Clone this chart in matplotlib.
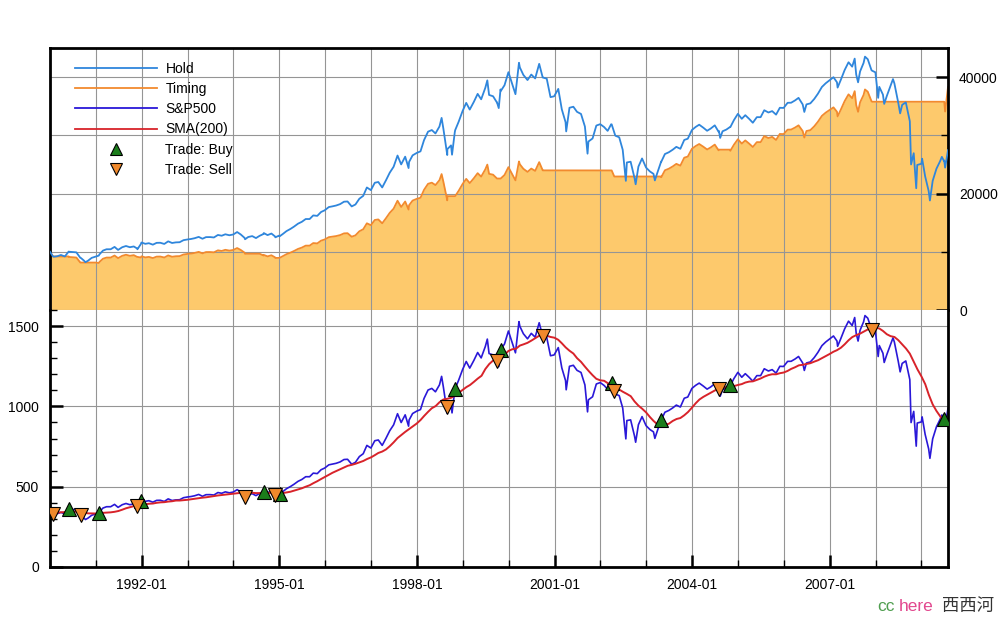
import matplotlib
matplotlib.use("Agg")
import matplotlib.pyplot as plt
import matplotlib.dates as mdates
import pandas as pd
from matplotlib.lines import Line2D
from matplotlib.ticker import MultipleLocator

plt.rcParams['font.family'] = ['Liberation Sans', 'DejaVu Sans']

# ---------------- data ----------------
dates = [
    # 1990
    '1990-01-02', '1990-01-26', '1990-01-31', '1990-02-28', '1990-03-30', '1990-04-30', '1990-05-31', '1990-06-01',
    '1990-06-29', '1990-07-31', '1990-08-31', '1990-09-04', '1990-09-28', '1990-10-11', '1990-10-31', '1990-11-30', '1990-12-31',
    # 1991
    '1991-01-25', '1991-01-31', '1991-02-28', '1991-03-28', '1991-04-30', '1991-05-31', '1991-06-28', '1991-07-31',
    '1991-08-30', '1991-09-30', '1991-10-31', '1991-11-27', '1991-11-29', '1991-12-27', '1991-12-31',
    # 1992
    '1992-01-31', '1992-02-28', '1992-03-31', '1992-04-30', '1992-05-29', '1992-06-30', '1992-07-31', '1992-08-31',
    '1992-09-30', '1992-10-30', '1992-11-30', '1992-12-31',
    # 1993
    '1993-01-29', '1993-02-26', '1993-03-31', '1993-04-30', '1993-05-28', '1993-06-30', '1993-07-30', '1993-08-31',
    '1993-09-30', '1993-10-29', '1993-11-30', '1993-12-31',
    # 1994
    '1994-01-31', '1994-02-28', '1994-03-31', '1994-04-04', '1994-04-29', '1994-05-31', '1994-06-30', '1994-07-29',
    '1994-08-30', '1994-08-31', '1994-09-30', '1994-10-31', '1994-11-30', '1994-12-01', '1994-12-30',
    # 1995
    '1995-01-04', '1995-01-31', '1995-02-28', '1995-03-31', '1995-04-28', '1995-05-31', '1995-06-30', '1995-07-31',
    '1995-08-31', '1995-09-29', '1995-10-31', '1995-11-30', '1995-12-29',
    # 1996
    '1996-01-31', '1996-02-29', '1996-03-29', '1996-04-30', '1996-05-31', '1996-06-28', '1996-07-31', '1996-08-30',
    '1996-09-30', '1996-10-31', '1996-11-29', '1996-12-31',
    # 1997
    '1997-01-31', '1997-02-28', '1997-03-31', '1997-04-30', '1997-05-30', '1997-06-30', '1997-07-31', '1997-08-29',
    '1997-09-30', '1997-10-27', '1997-10-31', '1997-11-28', '1997-12-31',
    # 1998
    '1998-01-30', '1998-02-27', '1998-03-31', '1998-04-30', '1998-05-29', '1998-06-30', '1998-07-17', '1998-07-31',
    '1998-08-31', '1998-09-01', '1998-09-30', '1998-10-08', '1998-10-30', '1998-11-02', '1998-11-30', '1998-12-31',
    # 1999
    '1999-01-29', '1999-02-26', '1999-03-31', '1999-04-30', '1999-05-28', '1999-06-30', '1999-07-16', '1999-07-30',
    '1999-08-31', '1999-09-30', '1999-10-01', '1999-10-15', '1999-10-29', '1999-11-01', '1999-11-30', '1999-12-31',
    # 2000
    '2000-01-31', '2000-02-25', '2000-03-24', '2000-03-31', '2000-04-28', '2000-05-31', '2000-06-30', '2000-07-31',
    '2000-08-31', '2000-09-01', '2000-09-29', '2000-10-02', '2000-10-31', '2000-11-30', '2000-12-29',
    # 2001
    '2001-01-31', '2001-02-28', '2001-03-30', '2001-04-04', '2001-04-30', '2001-05-31', '2001-06-29', '2001-07-31',
    '2001-08-31', '2001-09-21', '2001-09-28', '2001-10-31', '2001-11-30', '2001-12-31',
    # 2002
    '2002-01-31', '2002-02-28', '2002-03-28', '2002-04-01', '2002-04-22', '2002-04-30', '2002-05-31', '2002-06-28',
    '2002-07-23', '2002-07-31', '2002-08-30', '2002-09-30', '2002-10-09', '2002-10-31', '2002-11-29', '2002-12-31',
    # 2003
    '2003-01-31', '2003-02-28', '2003-03-11', '2003-03-31', '2003-04-30', '2003-05-01', '2003-05-30', '2003-06-30',
    '2003-07-31', '2003-08-29', '2003-09-30', '2003-10-31', '2003-11-28', '2003-12-31',
    # 2004
    '2004-01-30', '2004-02-27', '2004-03-31', '2004-04-30', '2004-05-28', '2004-06-30', '2004-07-30', '2004-08-02',
    '2004-08-12', '2004-08-31', '2004-09-30', '2004-10-29', '2004-11-01', '2004-11-30', '2004-12-31',
    # 2005
    '2005-01-31', '2005-02-28', '2005-03-31', '2005-04-29', '2005-05-31', '2005-06-30', '2005-07-29', '2005-08-31',
    '2005-09-30', '2005-10-31', '2005-11-30', '2005-12-30',
    # 2006
    '2006-01-31', '2006-02-28', '2006-03-31', '2006-04-28', '2006-05-31', '2006-06-13', '2006-06-30', '2006-07-31',
    '2006-08-31', '2006-09-29', '2006-10-31', '2006-11-30', '2006-12-29',
    # 2007
    '2007-01-31', '2007-02-28', '2007-03-05', '2007-03-30', '2007-04-30', '2007-05-31', '2007-06-29', '2007-07-19',
    '2007-07-31', '2007-08-15', '2007-08-31', '2007-09-28', '2007-10-09', '2007-10-31', '2007-11-30', '2007-12-06',
    '2007-12-31',
    # 2008
    '2008-01-22', '2008-01-31', '2008-02-29', '2008-03-10', '2008-03-31', '2008-04-30', '2008-05-19', '2008-05-30',
    '2008-06-30', '2008-07-15', '2008-07-31', '2008-08-29', '2008-09-30', '2008-10-10', '2008-10-31', '2008-11-20',
    '2008-11-28', '2008-12-31',
    # 2009
    '2009-01-06', '2009-01-30', '2009-02-27', '2009-03-09', '2009-03-31', '2009-04-30', '2009-05-29', '2009-06-12',
    '2009-06-30', '2009-07-01', '2009-07-08', '2009-07-31',
]

sp500 = [
    359.7, 331.0, 329.1, 331.9, 339.9, 330.8, 361.2, 360.0, 358.0, 356.2, 322.6, 322.0, 306.1, 295.5, 304.0, 322.2, 330.2,
    336.0, 343.9, 367.1, 375.2, 375.3, 389.8, 371.2, 387.8, 395.4, 387.9, 392.5, 380.0, 375.2, 408.0, 417.1,
    408.8, 412.7, 403.7, 414.9, 415.4, 408.1, 424.2, 414.0, 417.8, 418.7, 431.4, 435.7,
    438.8, 443.4, 451.7, 440.2, 450.2, 450.5, 448.1, 463.6, 458.9, 467.8, 461.8, 466.5,
    481.6, 467.1, 445.8, 437.0, 450.9, 456.5, 444.3, 458.3, 470.0, 475.5, 462.7, 472.4, 453.7, 449.0, 459.3,
    455.0, 470.4, 487.4, 500.7, 514.7, 533.4, 544.8, 562.1, 561.9, 584.4, 581.5, 605.4, 615.9,
    636.0, 640.4, 645.5, 654.2, 669.1, 670.6, 639.9, 651.9, 687.3, 705.3, 757.0, 740.7,
    786.2, 790.8, 757.1, 801.3, 848.3, 885.1, 954.3, 899.5, 947.3, 876.9, 914.6, 955.4, 970.4,
    980.3, 1049.3, 1101.8, 1111.8, 1090.8, 1133.8, 1186.8, 1120.7, 957.3, 994.0, 1017.0, 959.4, 1098.7, 1111.0, 1163.6, 1229.2,
    1279.6, 1238.3, 1286.4, 1335.2, 1301.8, 1372.7, 1418.8, 1328.7, 1320.4, 1282.7, 1283.0, 1247.4, 1362.9, 1354.0, 1388.9, 1469.3,
    1394.5, 1333.4, 1527.5, 1498.6, 1452.4, 1420.6, 1454.6, 1430.8, 1517.7, 1520.8, 1436.5, 1436.0, 1429.4, 1315.2, 1320.3,
    1366.0, 1239.9, 1160.3, 1103.3, 1249.5, 1255.8, 1224.4, 1211.2, 1133.6, 965.8, 1040.9, 1059.8, 1139.5, 1148.1,
    1130.2, 1106.7, 1147.4, 1147.0, 1097.0, 1076.9, 1067.1, 989.8, 797.7, 911.6, 916.1, 815.3, 776.8, 885.8, 936.3, 879.8,
    855.7, 841.2, 800.7, 848.2, 916.9, 916.0, 963.6, 974.5, 990.3, 1008.0, 996.0, 1050.7, 1058.2, 1111.9,
    1131.1, 1144.9, 1126.2, 1107.3, 1120.7, 1140.8, 1101.7, 1106.0, 1063.2, 1104.2, 1114.6, 1130.2, 1130.0, 1173.8, 1211.9,
    1181.3, 1203.6, 1180.6, 1156.9, 1191.5, 1191.3, 1234.2, 1220.3, 1228.8, 1207.0, 1249.5, 1248.3,
    1280.1, 1280.7, 1294.8, 1310.6, 1270.1, 1223.7, 1270.2, 1276.7, 1303.8, 1335.9, 1377.9, 1400.6, 1418.3,
    1438.2, 1406.8, 1374.1, 1420.9, 1482.4, 1530.6, 1503.4, 1553.1, 1455.3, 1406.7, 1473.9, 1526.8, 1565.2, 1549.4, 1481.1, 1478.0,
    1468.4,
    1310.5, 1378.6, 1330.6, 1273.4, 1322.7, 1385.6, 1426.6, 1400.4, 1280.0, 1214.9, 1267.4, 1282.8, 1166.4, 899.2, 968.8, 752.4,
    896.2, 903.3,
    934.7, 825.9, 735.1, 676.5, 797.9, 872.8, 919.1, 946.2, 919.3, 923.0, 879.6, 987.5,
]

hold = [
    10000, 9202, 9149, 9227, 9449, 9196, 10041, 10008, 9952, 9902, 8968, 8952, 8510, 8215, 8451, 8957, 9180,
    9341, 9560, 10205, 10431, 10433, 10836, 10319, 10781, 10992, 10784, 10912, 10564, 10431, 11342, 11595,
    11365, 11473, 11223, 11534, 11548, 11345, 11793, 11509, 11615, 11640, 11993, 12112,
    12199, 12327, 12557, 12238, 12516, 12524, 12457, 12888, 12757, 13005, 12838, 12969,
    13388, 12985, 12393, 12149, 12535, 12691, 12352, 12741, 13066, 13219, 12863, 13133, 12613, 12482, 12769,
    12649, 13077, 13550, 13919, 14309, 14829, 15145, 15626, 15621, 16246, 16166, 16830, 17122,
    17681, 17803, 17945, 18187, 18601, 18643, 17789, 18123, 19107, 19607, 21045, 20591,
    21856, 21984, 21047, 22276, 23583, 24606, 26530, 25006, 26335, 24378, 25426, 26560, 26977,
    27252, 29171, 30630, 30908, 30324, 31520, 32993, 31155, 26613, 27633, 28273, 26671, 30544, 30886, 32348, 34172,
    35573, 34425, 35762, 37119, 36190, 38161, 39443, 36938, 36707, 35659, 35667, 34678, 37889, 37641, 38611, 40847,
    38767, 37069, 42465, 41661, 40377, 39493, 40438, 39776, 42192, 42278, 39935, 39921, 39737, 36563, 36704,
    37975, 34469, 32256, 30672, 34736, 34911, 34038, 33671, 31514, 26849, 28937, 29462, 31678, 31917,
    31420, 30766, 31898, 31887, 30497, 29938, 29665, 27516, 22176, 25342, 25468, 22665, 21595, 24625, 26029, 24458,
    23788, 23385, 22259, 23580, 25490, 25465, 26788, 27091, 27530, 28022, 27689, 29209, 29418, 30911,
    31445, 31828, 31308, 30783, 31155, 31714, 30627, 30747, 29557, 30697, 30986, 31420, 31414, 32632, 33691,
    32840, 33460, 32821, 32162, 33124, 33118, 34311, 33924, 34161, 33555, 34736, 34703,
    35587, 35603, 35995, 36435, 35309, 34019, 35312, 35492, 36246, 37138, 38306, 38937, 39429,
    39982, 39109, 38200, 39501, 41211, 42551, 41795, 43176, 40457, 39106, 40974, 42445, 43513, 43073, 41175, 41088,
    40822,
    36432, 38325, 36991, 35401, 36771, 38520, 39659, 38931, 35584, 33774, 35234, 35662, 32426, 24998, 26933, 20917,
    24914, 25112,
    25985, 22960, 20436, 18807, 22182, 24264, 25551, 26304, 25557, 25659, 24453, 27453,
]

timing = [
    10000, 9202, 9200, 9200, 9200, 9200, 9200, 9108, 9057, 9012, 8162, 8147, 8150, 8150, 8150, 8150, 8150,
    8064, 8254, 8810, 9005, 9007, 9355, 8909, 9307, 9490, 9310, 9420, 9120, 9120, 9017, 9218,
    9034, 9121, 8922, 9169, 9180, 9019, 9375, 9149, 9233, 9253, 9534, 9629,
    9697, 9799, 9983, 9728, 9949, 9956, 9903, 10246, 10142, 10338, 10206, 10310,
    10643, 10323, 9852, 9658, 9660, 9660, 9660, 9660, 9353, 9462, 9208, 9401, 9029, 8935, 8940,
    8950, 9253, 9587, 9849, 10124, 10492, 10716, 11056, 11053, 11495, 11438, 11908, 12115,
    12510, 12597, 12697, 12868, 13161, 13191, 12587, 12823, 13519, 13873, 14890, 14570,
    15465, 15555, 14892, 15762, 16686, 17410, 18771, 17693, 18633, 17249, 17990, 18793, 19088,
    19283, 20640, 21672, 21869, 21456, 22302, 23344, 22044, 18830, 19552, 19550, 19550, 19550, 19554, 20479, 21634,
    22521, 21794, 22641, 23500, 22912, 24160, 24971, 23385, 23239, 22576, 22581, 22580, 22580, 22612, 23195, 24537,
    23288, 22268, 25509, 25027, 24255, 23724, 24292, 23894, 25346, 25397, 23990, 23981, 23980, 23980, 23980,
    23980, 23980, 23980, 23980, 23980, 23980, 23980, 23980, 23980, 23980, 23980, 23980, 23980, 23980,
    23980, 23980, 23980, 23972, 22927, 22930, 22930, 22930, 22930, 22930, 22930, 22930, 22930, 22930, 22930, 22930,
    22930, 22930, 22930, 22930, 22930, 22808, 23994, 24265, 24658, 25099, 24800, 26162, 26349, 27686,
    28164, 28508, 28042, 27572, 27905, 28406, 27432, 27539, 27540, 27540, 27540, 27540, 27346, 28406, 29328,
    28587, 29127, 28571, 27997, 28834, 28829, 29868, 29531, 29737, 29209, 30238, 30209,
    30978, 30993, 31334, 31717, 30736, 29614, 30739, 30896, 31552, 32329, 33345, 33895, 34323,
    34804, 34045, 33253, 34386, 35874, 37041, 36382, 37585, 35218, 34042, 35668, 36949, 37878, 37495, 35843, 35768,
    35770,
    35770, 35770, 35770, 35770, 35770, 35770, 35770, 35770, 35770, 35770, 35770, 35770, 35770, 35770, 35770, 35770,
    35770, 35770,
    35770, 35770, 35770, 35770, 35770, 35770, 35770, 35770, 35770, 35770, 34085, 38266,
]

# SMA(200): value at the start, then one value per month end (Jan 1990 .. Jul 2009)
sma_start_date = '1990-01-02'
sma_start = 333.0
sma_month = [
    336.4, 338.6, 340.6, 341.8, 343.3, 344.0, 344.7, 342.9, 338.9, 334.0, 333.3, 333.1,
    333.5, 337.2, 338.6, 340.3, 343.6, 348.5, 356.7, 365.8, 372.4, 378.6, 381.7, 386.7,
    390.1, 393.8, 395.2, 399.6, 402.4, 403.6, 407.3, 409.4, 413.7, 413.8, 416.1, 418.4,
    421.9, 424.8, 428.4, 431.6, 434.2, 437.8, 440.9, 445.4, 448.1, 451.3, 453.6, 455.9,
    458.9, 461.6, 461.2, 461.2, 462.1, 460.1, 460.1, 460.8, 460.9, 461.5, 458.7, 457.9,
    460.4, 464.1, 468.5, 475.5, 483.0, 490.0, 499.9, 508.8, 521.9, 534.1, 547.6, 560.5,
    574.0, 586.6, 597.8, 608.7, 619.4, 630.3, 635.9, 642.9, 651.1, 660.0, 672.1, 682.2,
    696.2, 709.9, 718.7, 731.8, 752.6, 775.9, 802.6, 822.0, 841.1, 858.5, 875.4, 893.3,
    915.7, 940.5, 965.8, 988.5, 1002.1, 1025.6, 1042.9, 1047.2, 1053.3, 1066.2, 1084.5, 1102.5,
    1120.3, 1132.9, 1152.5, 1172.6, 1190.7, 1232.3, 1263.4, 1285.6, 1297.5, 1310.9, 1321.8, 1344.9,
    1355.7, 1358.8, 1378.5, 1386.5, 1395.7, 1409.1, 1423.9, 1439.4, 1444.1, 1440.2, 1432.2, 1427.6,
    1414.4, 1393.1, 1367.1, 1346.6, 1329.1, 1299.7, 1277.2, 1247.6, 1220.2, 1194.1, 1171.5, 1162.3,
    1159.3, 1145.0, 1134.2, 1119.4, 1105.0, 1090.6, 1077.7, 1063.3, 1030.9, 1004.7, 985.3, 962.6,
    933.4, 909.9, 888.0, 880.7, 885.9, 891.7, 909.2, 921.5, 927.4, 944.5, 964.8, 991.8,
    1020.1, 1042.9, 1059.2, 1072.5, 1085.5, 1098.8, 1109.4, 1114.7, 1120.3, 1122.2, 1126.4, 1133.1,
    1138.7, 1148.3, 1154.3, 1155.9, 1164.9, 1173.6, 1185.5, 1194.5, 1200.0, 1199.6, 1206.4, 1210.8,
    1220.8, 1233.2, 1243.5, 1255.4, 1259.0, 1264.0, 1268.8, 1278.5, 1287.1, 1300.1, 1312.1, 1325.9,
    1340.2, 1349.9, 1364.9, 1386.2, 1411.5, 1431.5, 1443.4, 1453.0, 1465.7, 1478.8, 1483.1, 1489.2,
    1485.0, 1469.8, 1449.0, 1437.2, 1431.8, 1412.4, 1386.4, 1359.8, 1328.3, 1278.3, 1230.1, 1187.4,
    1137.7, 1072.6, 1012.4, 971.7, 936.8, 900.5, 882.6,
]

buy_dates = ['1990-06-01', '1991-01-25', '1991-12-27', '1994-08-30', '1995-01-04', '1998-11-02',
             '1999-11-01', '2002-04-01', '2003-05-01', '2004-11-01', '2009-07-01']
buy_prices = [360.0, 336.0, 408.0, 470.0, 455.0, 1111.0, 1354.0, 1147.0, 916.0, 1130.0, 923.0]
sell_dates = ['1990-01-26', '1990-09-04', '1991-11-27', '1994-04-04', '1994-12-01', '1998-09-01',
              '1999-10-01', '2000-10-02', '2002-04-22', '2004-08-02', '2007-12-06']
sell_prices = [331.0, 322.0, 380.0, 437.0, 449.0, 994.0, 1283.0, 1436.0, 1097.0, 1106.0, 1478.0]

legend_labels = ['Hold', 'Timing', 'S&P500', 'SMA(200)', 'Trade: Buy', 'Trade: Sell']

# ---------------- styles ----------------
c_hold = '#2f86dc'
c_timing = '#f28a2e'
c_fill = '#fdc96c'
c_sp = '#2a18d8'
c_sma = '#d8232a'
c_buy = '#1b7d1b'
c_sell = '#f0892c'
c_grid = '#959595'

t = pd.to_datetime(dates)
sma_t = pd.DatetimeIndex([pd.Timestamp(sma_start_date)]).append(
    pd.date_range('1990-02-01', periods=len(sma_month), freq='MS') - pd.Timedelta(days=1))
sma_v = [sma_start] + sma_month

W, H = 1000, 618
def box(l, tp, r, b):
    return [l / W, 1 - b / H, (r - l) / W, (b - tp) / H]

fig = plt.figure(figsize=(10, 6.18), dpi=100)
ax_top = fig.add_axes(box(50, 48, 948, 310))
ax_bot = fig.add_axes(box(50, 310, 948, 567), sharex=ax_top)

# top panel
ax_top.fill_between(t, timing, 0, color=c_fill, lw=0, zorder=1)
ax_top.plot(t, timing, color=c_timing, lw=1.3, zorder=2)
ax_top.plot(t, hold, color=c_hold, lw=1.3, zorder=3)
ax_top.set_ylim(0, 45000)
ax_top.yaxis.tick_right()
ax_top.yaxis.set_major_locator(MultipleLocator(20000))
ax_top.yaxis.set_minor_locator(MultipleLocator(10000))
ax_top.set_axisbelow('line')
ax_top.grid(True, which='both', color=c_grid, lw=0.8)
ax_top.tick_params(axis='x', which='both', bottom=False, top=False, labelbottom=False)
ax_top.tick_params(axis='y', which='major', direction='in', length=9, width=1.8, labelsize=10, pad=8)
ax_top.tick_params(axis='y', which='minor', direction='in', length=5, width=1.0)
ax_top.spines['bottom'].set_visible(False)
for s in ['left', 'right', 'top']:
    ax_top.spines[s].set_linewidth(2.0)

# bottom panel
ax_bot.plot(t, sp500, color=c_sp, lw=1.2, zorder=2)
ax_bot.plot(sma_t, sma_v, color=c_sma, lw=1.4, zorder=3)
ax_bot.plot(pd.to_datetime(buy_dates), buy_prices, ls='none', marker='^', ms=10,
            mfc=c_buy, mec='black', mew=0.8, zorder=5)
ax_bot.plot(pd.to_datetime(sell_dates), sell_prices, ls='none', marker='v', ms=10,
            mfc=c_sell, mec='black', mew=0.8, zorder=5)
ax_bot.set_ylim(0, 1600)
ax_bot.yaxis.set_major_locator(MultipleLocator(500))
ax_bot.yaxis.set_minor_locator(MultipleLocator(100))
ax_bot.grid(True, which='major', axis='y', color=c_grid, lw=0.8)
ax_bot.grid(True, which='both', axis='x', color=c_grid, lw=0.8)
ax_bot.set_axisbelow(True)
ax_bot.xaxis.set_major_locator(mdates.YearLocator(base=3, month=1, day=1))
ax_bot.xaxis.set_minor_locator(mdates.YearLocator(1, month=1, day=1))
ax_bot.xaxis.set_major_formatter(mdates.DateFormatter('%Y-%m'))
ax_bot.tick_params(axis='both', which='major', direction='in', length=9, width=1.8, labelsize=10, pad=8)
ax_bot.tick_params(axis='both', which='minor', direction='in', length=5, width=1.0)
ax_bot.tick_params(axis='y', right=False)
ax_bot.spines['top'].set_visible(False)
for s in ['left', 'right', 'bottom']:
    ax_bot.spines[s].set_linewidth(2.0)

ax_top.set_xlim(pd.Timestamp('1990-01-02'), pd.Timestamp('2009-07-31'))
ax_top.grid(True, which='both', axis='x', color=c_grid, lw=0.8)

# legend
handles = [
    Line2D([], [], color=c_hold, lw=1.3),
    Line2D([], [], color=c_timing, lw=1.3),
    Line2D([], [], color=c_sp, lw=1.3),
    Line2D([], [], color=c_sma, lw=1.3),
    Line2D([], [], ls='none', marker='^', ms=9, mfc=c_buy, mec='black', mew=0.8),
    Line2D([], [], ls='none', marker='v', ms=9, mfc=c_sell, mec='black', mew=0.8),
]
leg = ax_top.legend(handles, legend_labels, loc='upper left', bbox_to_anchor=(0.028, 0.948),
                    frameon=False, handlelength=5.9, handletextpad=0.6, labelspacing=0.45,
                    fontsize=10, borderaxespad=0, borderpad=0)
leg.set_zorder(10)

# watermark
fig.text(0.877, 0.012, 'cc', color='#4f9e4f', fontsize=12.5)
fig.text(0.899, 0.012, 'here', color='#e2488e', fontsize=12.5)
fig.text(0.942, 0.012, '西西河', color='#333333', fontsize=12.5,
         family=['Noto Sans CJK SC', 'DejaVu Sans'])

fig.savefig('out.png', dpi=100)
